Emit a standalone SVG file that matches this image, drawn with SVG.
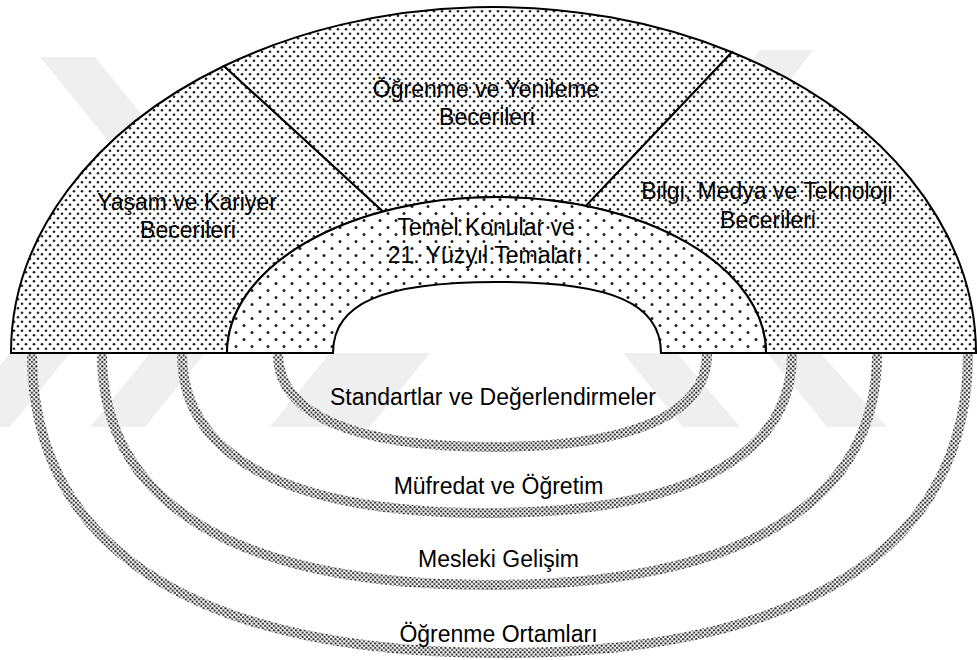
<svg xmlns="http://www.w3.org/2000/svg" width="977" height="660" viewBox="0 0 977 660">
  <defs>
    <pattern id="dotsOuter" width="8" height="9" patternUnits="userSpaceOnUse">
      <rect width="8" height="9" fill="#ffffff"/>
      <circle cx="2" cy="2.25" r="1.3" fill="#222"/>
      <circle cx="6" cy="6.75" r="1.3" fill="#222"/>
    </pattern>
    <pattern id="dotsInner" width="16" height="14" patternUnits="userSpaceOnUse">
      <rect width="16" height="14" fill="#ffffff"/>
      <circle cx="4" cy="3.5" r="1.5" fill="#222"/>
      <circle cx="12" cy="10.5" r="1.5" fill="#222"/>
    </pattern>
    <pattern id="dotsFine" width="4.4" height="4.4" patternUnits="userSpaceOnUse">
      <rect width="4.4" height="4.4" fill="#ffffff"/>
      <circle cx="1.1" cy="1.1" r="1.1" fill="#222"/>
      <circle cx="3.3" cy="3.3" r="1.1" fill="#222"/>
    </pattern>
    <clipPath id="wmClip"><rect x="0" y="0" width="977" height="427"/></clipPath>
    <style>
      .lbl { font-family: "Liberation Sans", Arial, sans-serif; font-size: 23px; fill: #000; text-anchor: middle; }
      .sector { fill: url(#dotsOuter); stroke: #000; stroke-width: 2; stroke-linejoin: miter; }
      .core { fill: url(#dotsInner); stroke: #000; stroke-width: 2; }
      .ring { fill: none; stroke: url(#dotsFine); stroke-width: 10; }
      .wm { fill: #efefef; }
    </style>
  </defs>
  <rect width="977" height="660" fill="#ffffff"/>

  <g id="watermark" clip-path="url(#wmClip)">
    <polygon class="wm" points="40,57 95,57 260,260 205,260"/>
    <polygon class="wm" points="760,50 813,50 660,250 607,250"/>
    <polygon class="wm" points="10,353 70,353 10,427 -50,427"/>
    <polygon class="wm" points="150,353 205,353 145,427 90,427"/>
    <polygon class="wm" points="330,353 430,353 370,427 270,427"/>
    <polygon class="wm" points="623,353 677,353 740,427 683,427"/>
    <polygon class="wm" points="767,353 820,353 887,427 827,427"/>
  </g>

  <g id="connectors">
    <path class="ring" d="M278,354 C278,414.1 353.1,447 492.5,447 C631.9,447 707,414.1 707,354"/>
    <path class="ring" d="M182,354 C182,457 288.8,513 487,513 C685.2,513 792,457 792,354"/>
    <path class="ring" d="M102,354 C102,503.8 237.6,585 489.5,585 C741.4,585 877,503.8 877,354"/>
    <path class="ring" d="M32,354 C32,548 195.8,653 500,653 C804.2,653 968,548 968,354"/>
  </g>

  <g id="yasam">
    <path class="sector" d="M11,353 A482.5,346 0 0 1 224,66 L383,211.5 A269.5,156 0 0 0 227,353 Z"/>
    <text class="lbl" x="187" y="210">Yaşam ve Kariyer</text>
    <text class="lbl" x="188" y="238">Becerileri</text>
  </g>
  <g id="ogrenme">
    <path class="sector" d="M224,66 A482.5,346 0 0 1 732,52.2 L586,205.9 A269.5,156 0 0 0 383,211.5 Z"/>
    <text class="lbl" x="486" y="97">Öğrenme ve Yenileme</text>
    <text class="lbl" x="487" y="125">Becerileri</text>
  </g>
  <g id="bilgi">
    <path class="sector" d="M732,52.2 A482.5,346 0 0 1 976,353 L766,353 A269.5,156 0 0 0 586,205.9 Z"/>
    <text class="lbl" x="767" y="199">Bilgi, Medya ve Teknoloji</text>
    <text class="lbl" x="768" y="228">Becerileri</text>
  </g>
  <g id="temel">
    <path class="core" d="M227,353 A269.5,156 0 0 1 766,353 L661,353 C661,303.3 611.8,282 497,282 C382.2,282 333,303.3 333,353 Z"/>
    <text class="lbl" x="486" y="235">Temel Konular ve</text>
    <text class="lbl" x="485" y="263">21. Yüzyıl Temaları</text>
  </g>

  <g id="standartlar"><text class="lbl" x="493" y="405">Standartlar ve Değerlendirmeler</text></g>
  <g id="mufredat"><text class="lbl" x="498.5" y="494">Müfredat ve Öğretim</text></g>
  <g id="mesleki"><text class="lbl" x="498.5" y="567">Mesleki Gelişim</text></g>
  <g id="ortamlar"><text class="lbl" x="498.5" y="642">Öğrenme Ortamları</text></g>
</svg>
